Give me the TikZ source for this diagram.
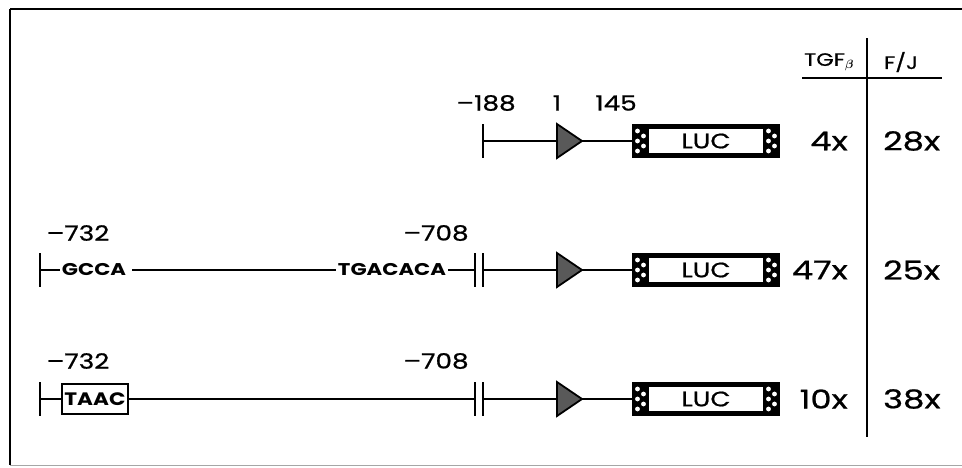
\documentclass[tikz,border=0pt]{standalone}
\usepackage{amsmath}
\usepackage{fontspec}
\setmainfont{Poppins}
\newfontfamily\numf[FakeStretch=1.25,FakeBold=0.8]{Poppins}
\newfontfamily\valf[FakeStretch=1.3,FakeBold=0.8]{Poppins}
\newfontfamily\seqf[FakeStretch=1.25]{Poppins}
\newfontfamily\taacf[FakeStretch=1.2]{Poppins}
\tikzset{
  base/.style={line width=1.6pt},
  tickline/.style={line width=2.6pt},
  num/.style={font=\numf\fontsize{21}{21}\selectfont, inner sep=0pt},
  seq/.style={font=\seqf\bfseries\fontsize{17}{17}\selectfont, inner sep=2pt},
  val/.style={font=\valf\fontsize{26}{26}\selectfont, inner sep=0pt},
  head/.style={font=\numf\fontsize{18}{18}\selectfont, inner sep=0pt},
  luc/.style={font=\numf\fontsize{21}{21}\selectfont, minimum width=148pt, minimum height=34pt, inner sep=0pt},
  taacbox/.style={draw, line width=2pt, font=\taacf\bfseries\fontsize{18}{18}\selectfont, minimum width=66pt, minimum height=30pt, inner sep=0pt},
  prom/.style={fill=black!65, draw=black, line width=1.8pt, line join=miter},
}
\newcommand\lucbox[2]{%
  \fill[black] (632,#2-17) rectangle (780,#2+17);
  \fill[white] (649,#2-12) rectangle (763,#2+12);
  \foreach \cx in {632,763}{%
    \foreach \dy in {-10,0,10}{%
      \fill[white] (\cx+5.5,#2+\dy) circle (2.4pt);
    }%
    \foreach \dy in {-5,5}{%
      \fill[white] (\cx+11.5,#2+\dy) circle (2.4pt);
    }%
  }%
  \node[luc] (#1) at (706,#2) {LUC};
}
\newcommand\promoter[2]{%
  \draw[prom] (557,#2-17) -- (582,#2) -- (557,#2+17) -- cycle;
  \coordinate (#1) at (582,#2);
}
\newcommand\dbar[1]{%
  \draw[tickline] (475,#1-17) -- (475,#1+17);
  \draw[tickline] (483,#1-17) -- (483,#1+17);
}
\begin{document}
\begin{tikzpicture}[x=1pt,y=-1pt]
\useasboundingbox (0,0) rectangle (962,467);
% frame
\draw[line width=2.4pt] (10,9) -- (962,9);
\draw[line width=2.4pt] (10,9) -- (10,465);
\draw[black!35, line width=1pt] (10,465) -- (962,465);

% table header
\coordinate (dtop) at (867,38);
\coordinate (dbot) at (867,437);
\draw[line width=1.8pt] (dtop) -- (dbot);
\coordinate (hl) at (802,78);
\coordinate (hr) at (942,78);
\draw[line width=1.8pt] (hl) -- (hr);
\node[head] (tgf) at (829,62) {TGF$_{\boldsymbol{\beta}}$};
\node[head] (fj) at (901,62) {F/J};

% ---------- row 1 ----------
\node[num] (n188) at (486,103) {–188};
\node[num] (n1) at (557,103) {1};
\node[num] (n145) at (616,103) {145};
\coordinate (t1) at (483,141);
\draw[tickline] (483,124) -- (483,158);
\lucbox{luc1}{141}
\draw[base] (t1) -- (luc1.west);
\promoter{p1}{141}
\node[val, anchor=east] (a1) at (848,141) {4x};
\node[val, anchor=west] (b1) at (883,141) {28x};

% ---------- row 2 ----------
\node[num] (n732a) at (78,233) {–732};
\node[num] (n708a) at (436,233) {–708};
\coordinate (t2) at (40,270);
\draw[tickline] (40,253) -- (40,287);
\node[seq] (gcca) at (94,270) {GCCA};
\node[seq] (tga) at (392,270) {TGACACA};
\coordinate (b2a) at (475,270);
\coordinate (b2b) at (483,270);
\draw[base] (t2) -- (gcca.west);
\draw[base] ([xshift=4pt]gcca.east) -- (tga.west);
\draw[base] (tga.east) -- (b2a);
\dbar{270}
\lucbox{luc2}{270}
\draw[base] (b2b) -- (luc2.west);
\promoter{p2}{270}
\node[val, anchor=east] (a2) at (848,270) {47x};
\node[val, anchor=west] (b2) at (883,270) {25x};

% ---------- row 3 ----------
\node[num] (n732b) at (78,361) {–732};
\node[num] (n708b) at (436,361) {–708};
\coordinate (t3) at (40,399);
\draw[tickline] (40,382) -- (40,416);
\node[taacbox] (taac) at (95,399) {TAAC};
\coordinate (b3a) at (475,399);
\coordinate (b3b) at (483,399);
\draw[base] (t3) -- (taac.west);
\draw[base] (taac.east) -- (b3a);
\dbar{399}
\lucbox{luc3}{399}
\draw[base] (b3b) -- (luc3.west);
\promoter{p3}{399}
\node[val, anchor=east] (a3) at (848,399) {10x};
\node[val, anchor=west] (b3) at (883,399) {38x};
\end{tikzpicture}
\end{document}
